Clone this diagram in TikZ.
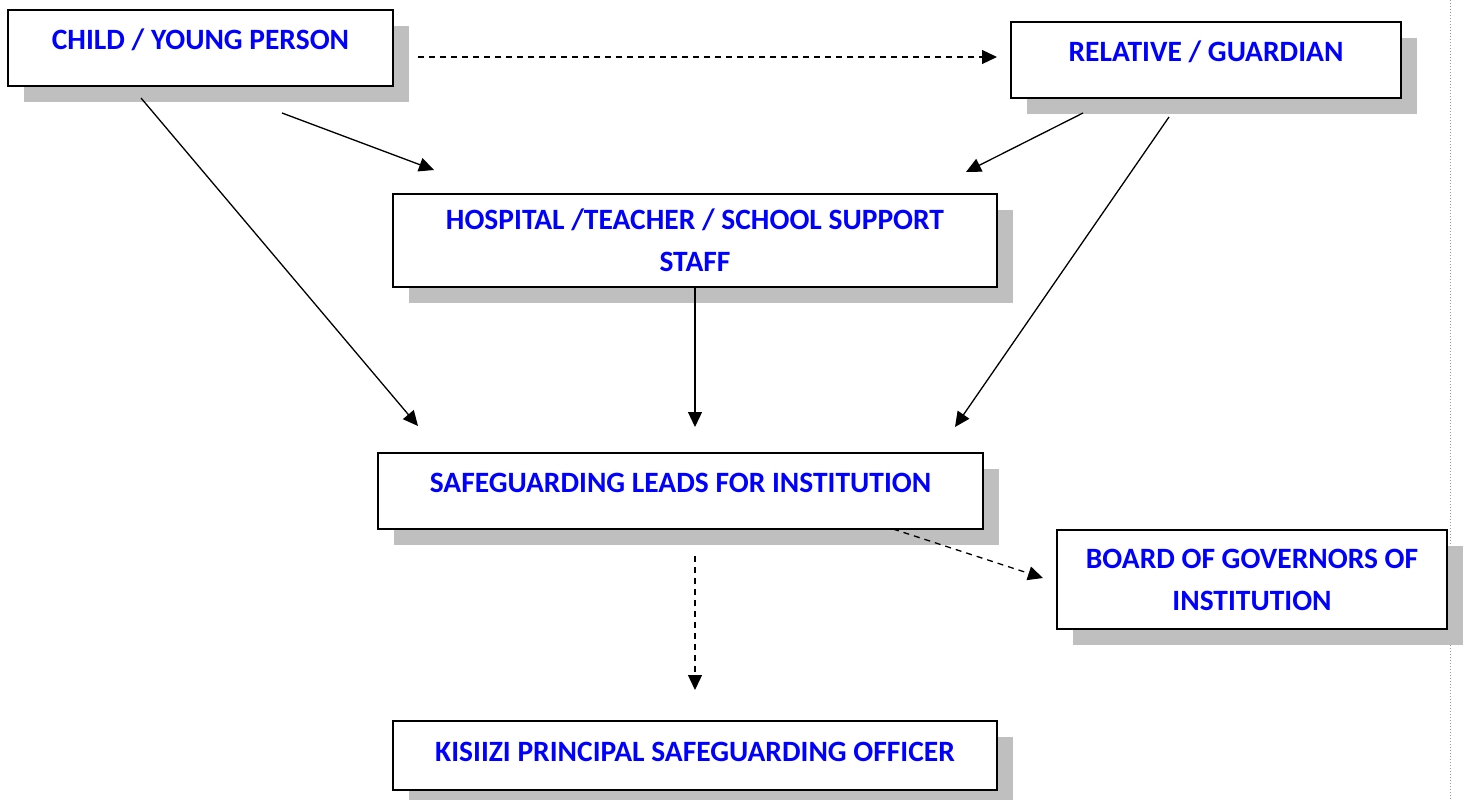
\documentclass[tikz,border=0pt]{standalone}
\usepackage{fontspec}
\setmainfont{Carlito}
\usetikzlibrary{arrows.meta,shadows}

\tikzset{
	box/.style={draw, line width=2pt, fill=white, text=blue, font=\bfseries\fontsize{29.5}{42}\selectfont, align=center, inner sep=0pt,
		drop shadow={shadow xshift=16pt, shadow yshift=-16pt, fill=black!25, opacity=1}},
	onebox/.style={box, text height=40pt, text depth=36pt},
	link/.style={line width=1.3pt, -{Triangle[length=15pt,width=14pt]}},
	dashlink/.style={link, dash pattern=on 6pt off 5pt},
}

\begin{document}
\begin{tikzpicture}[x=1pt, y=-1pt]
	\useasboundingbox (0,0) rectangle (1465,800);
	\draw[black!40, line width=1pt, dotted] (1450,0) -- (1450,800);

	\node(child)[onebox, minimum width=385] at (200.5,48){CHILD / YOUNG PERSON};
	\node(relative)[onebox, minimum width=390] at (1206,60){RELATIVE / GUARDIAN};
	\node(staff)[box, minimum width=604, minimum height=93] at (695,240.5){HOSPITAL /TEACHER / SCHOOL SUPPORT\\STAFF};
	\node(leads)[onebox, minimum width=605] at (680.5,490.5){SAFEGUARDING LEADS FOR INSTITUTION};
	\node(board)[box, minimum width=390, minimum height=99] at (1252,579.5){BOARD OF GOVERNORS OF\\INSTITUTION};
	\node(officer)[onebox, text depth=29pt, minimum width=604] at (695,755.5){KISIIZI PRINCIPAL SAFEGUARDING OFFICER};

	\coordinate(childE) at (418,57);
	\coordinate(relW) at (997,57);
	\coordinate(childS1) at (282,113);
	\coordinate(childS2) at (141,98);
	\coordinate(relS1) at (1083,113);
	\coordinate(relS2) at (1169,117);
	\coordinate(staffIn1) at (434,170);
	\coordinate(staffIn2) at (966,172);
	\coordinate(leadsIn1) at (418,426);
	\coordinate(leadsIn2) at (695,427);
	\coordinate(leadsIn3) at (955,427);
	\coordinate(leadsS1) at (893,529);
	\coordinate(leadsS2) at (695,556);
	\coordinate(boardW) at (1043,578);
	\coordinate(officerN) at (695,690);

	\draw [dashlink] (childE) -- (relW);
	\draw [link] (childS1) -- (staffIn1);
	\draw [link] (childS2) -- (leadsIn1);
	\draw [link] (relS1) -- (staffIn2);
	\draw [link] (relS2) -- (leadsIn3);
	\draw [link] (staff.south) -- (leadsIn2);
	\draw [dashlink] (leadsS1) -- (boardW);
	\draw [dashlink] (leadsS2) -- (officerN);
\end{tikzpicture}
\end{document}
